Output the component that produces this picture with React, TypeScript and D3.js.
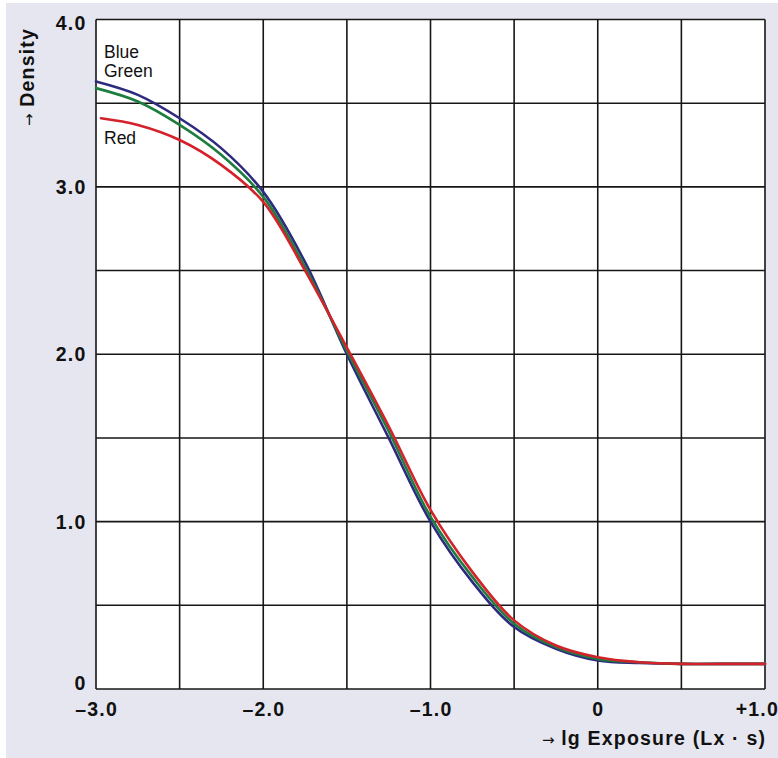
import React from "react";
import * as d3 from "d3";

const lgExposure = [-3, -2.75, -2.5, -2.25, -2, -1.75, -1.5, -1.25, -1, -0.75, -0.5, -0.25, 0, 0.25, 0.5, 0.75, 1];
const blueDensity = [3.63, 3.55, 3.41, 3.23, 2.97, 2.55, 2.0, 1.5, 1.0, 0.64, 0.37, 0.24, 0.17, 0.155, 0.15, 0.15, 0.15];
const greenDensity = [3.59, 3.51, 3.37, 3.19, 2.94, 2.52, 2.02, 1.54, 1.03, 0.67, 0.39, 0.25, 0.18, 0.16, 0.15, 0.15, 0.15];
const redExposure = [-2.97, -2.75, -2.5, -2.25, -2, -1.75, -1.5, -1.25, -1, -0.75, -0.5, -0.25, 0, 0.25, 0.5, 0.75, 1];
const redDensity = [3.41, 3.37, 3.28, 3.13, 2.91, 2.5, 2.04, 1.57, 1.07, 0.7, 0.41, 0.26, 0.19, 0.16, 0.15, 0.15, 0.15];

const xGrid = [-3, -2.5, -2, -1.5, -1, -0.5, 0, 0.5, 1];
const yGrid = [0, 0.5, 1, 1.5, 2, 2.5, 3, 3.5, 4];
const xTickValues = [-3, -2, -1, 0, 1];
const xTickLabels = ["–3.0", "–2.0", "–1.0", "0", "+1.0"];
const yTickValues = [0, 1, 2, 3, 4];
const yTickLabels = ["0", "1.0", "2.0", "3.0", "4.0"];

const seriesNames = ["Blue", "Green", "Red"];
const seriesColors = ["#2e2b7f", "#1d7d3f", "#d4222a"];

const W = 778;
const H = 758;
const left = 96;
const right = 765;
const top = 19.5;
const bottom = 689;

export default function App() {
  const x = d3.scaleLinear().domain([-3, 1]).range([left, right]);
  const y = d3.scaleLinear().domain([0, 4]).range([bottom, top]);
  const line = d3
    .line<[number, number]>()
    .x((d) => x(d[0]))
    .y((d) => y(d[1]))
    .curve(d3.curveCatmullRom.alpha(0.5));

  const series: [number, number][][] = [
    lgExposure.map((e, i) => [e, blueDensity[i]] as [number, number]),
    lgExposure.map((e, i) => [e, greenDensity[i]] as [number, number]),
    redExposure.map((e, i) => [e, redDensity[i]] as [number, number]),
  ];

  const bold = {
    fontFamily: "'Liberation Sans', Arial, Helvetica, sans-serif",
    fontWeight: 700,
    fontSize: 19.5,
    letterSpacing: 1.2,
    fill: "#111",
  } as const;

  const labelPos = [
    { x: 104, y: 58 },
    { x: 104, y: 77 },
    { x: 104, y: 144 },
  ];

  return (
    <svg
      width={W}
      height={H}
      style={{ position: "absolute", left: 0, top: 0 }}
      xmlns="http://www.w3.org/2000/svg"
    >
      <rect x={6} y={3} width={W - 6} height={H - 3} fill="#e6e6f0" />
      <rect x={left} y={top} width={right - left} height={bottom - top} fill="#ffffff" />
      <g stroke="#161616" strokeWidth={1.6}>
        {xGrid.map((v) => (
          <line key={"xg" + v} x1={x(v)} x2={x(v)} y1={top} y2={bottom} />
        ))}
        {yGrid.map((v) => (
          <line key={"yg" + v} x1={left} x2={right} y1={y(v)} y2={y(v)} />
        ))}
      </g>
      <g fill="none" strokeWidth={2.6} strokeLinecap="round">
        {series.map((s, i) => (
          <path key={seriesNames[i]} d={line(s) || ""} stroke={seriesColors[i]} />
        ))}
      </g>
      {yTickValues.map((v, i) => (
        <text
          key={"yt" + v}
          x={86.5}
          y={Math.max(30, Math.min(690, y(v) + 7))}
          textAnchor="end"
          {...bold}
        >
          {yTickLabels[i]}
        </text>
      ))}
      {xTickValues.map((v, i) => {
        const last = i === xTickValues.length - 1;
        return (
          <text
            key={"xt" + v}
            x={last ? W + 1 : x(v) + 0.6}
            y={716}
            textAnchor={last ? "end" : "middle"}
            {...bold}
          >
            {xTickLabels[i]}
          </text>
        );
      })}
      <text x={right + 1.2} y={745} textAnchor="end" {...bold}>
        <tspan fontFamily="'DejaVu Sans', sans-serif" fontWeight={400} fontSize={15} letterSpacing={0}>
          →
        </tspan>
        <tspan> lg Exposure (Lx · s)</tspan>
      </text>
      <text transform="translate(34,126) rotate(-90)" textAnchor="start" {...bold}>
        <tspan fontFamily="'DejaVu Sans', sans-serif" fontWeight={400} fontSize={15} letterSpacing={0}>
          →
        </tspan>
        <tspan> Density</tspan>
      </text>
      {seriesNames.map((n, i) => (
        <text
          key={"lab" + n}
          x={labelPos[i].x}
          y={labelPos[i].y}
          fontFamily="'Liberation Sans', Arial, Helvetica, sans-serif"
          fontSize={17.5}
          fill="#111"
        >
          {n}
        </text>
      ))}
    </svg>
  );
}
